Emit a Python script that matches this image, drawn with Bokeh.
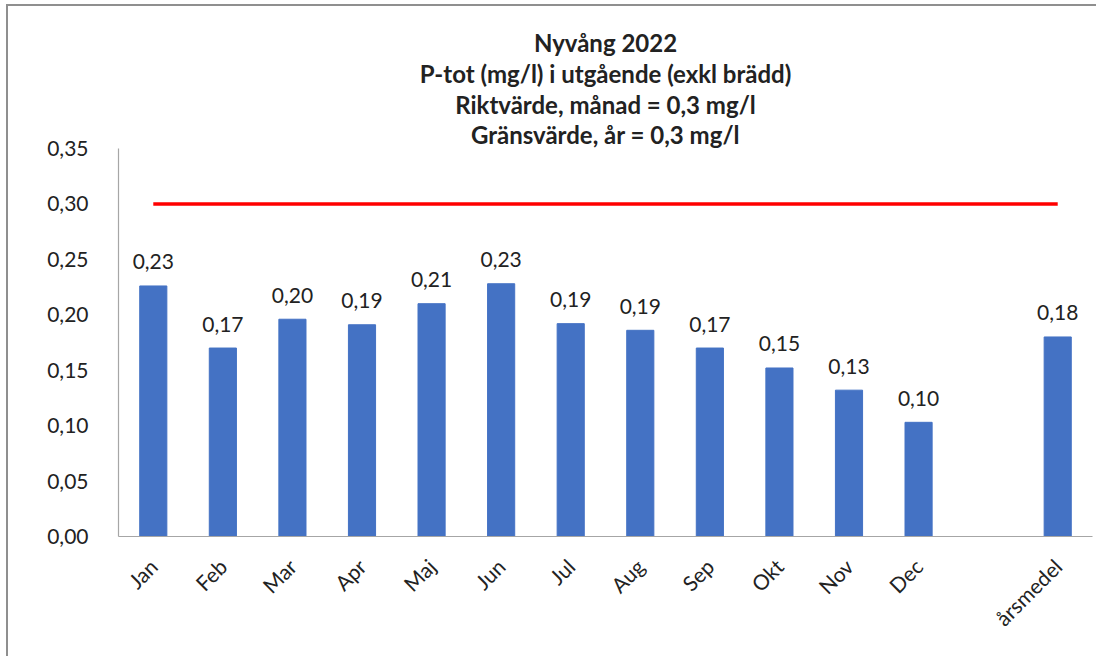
from bokeh.plotting import figure
from bokeh.models import FactorRange, FixedTicker, CustomJSTickFormatter, Title, ColumnDataSource
from bokeh.core.properties import value
from bokeh.embed import file_html
from bokeh.resources import INLINE
import math

# ---- data ----
categories = ["Jan", "Feb", "Mar", "Apr", "Maj", "Jun", "Jul", "Aug", "Sep", "Okt", "Nov", "Dec", " ", "årsmedel"]
bar_categories = ["Jan", "Feb", "Mar", "Apr", "Maj", "Jun", "Jul", "Aug", "Sep", "Okt", "Nov", "Dec", "årsmedel"]
ptot_values = [0.226, 0.170, 0.196, 0.191, 0.210, 0.228, 0.192, 0.186, 0.170, 0.152, 0.132, 0.103, 0.180]
limit_values = [0.3] * len(categories)
y_ticks = [0.0, 0.05, 0.10, 0.15, 0.20, 0.25, 0.30, 0.35]
title_lines = ["Nyvång 2022", "P-tot (mg/l) i utgående (exkl brädd)", "Riktvärde, månad = 0,3 mg/l", "Gränsvärde, år = 0,3 mg/l"]

FONT = "Lato"
TEXT = "#222222"

labels = [f"{v:.2f}".replace(".", ",") for v in ptot_values]
src = ColumnDataSource(dict(x=bar_categories, top=ptot_values, label=labels))

p = figure(
    x_range=FactorRange(*categories, range_padding=0),
    y_range=(0, 0.35),
    width=1096, height=656,
    output_backend="svg", toolbar_location=None,
    min_border_left=118, min_border_right=4, min_border_top=148, min_border_bottom=120,
)
# outer chart-area border (left and top edges), drawn behind a transparent border fill
p.styles = {
    "background-color": "white",
    "background-image": "linear-gradient(#8f8f8f, #8f8f8f), linear-gradient(#8f8f8f, #8f8f8f)",
    "background-size": "2px calc(100% - 4px), calc(100% - 6px) 2px",
    "background-position": "6px 4px, 6px 4px",
    "background-repeat": "no-repeat",
}
p.border_fill_color = None
p.background_fill_color = "white"

p.vbar(x="x", top="top", width=0.39, source=src, color="#4472C4")
p.line(x=categories, y=limit_values, line_color="#FF0000", line_width=3.5)
p.text(x="x", y="top", text="label", source=src, text_align="center", text_baseline="alphabetic",
       y_offset=-24, text_font=value(FONT), text_font_size="21px", text_color=TEXT)

for i, line in reversed(list(enumerate(title_lines))):
    p.add_layout(Title(text=line, align="center", offset=-40, text_font=FONT, text_font_size="24px",
                       text_font_style="bold", text_color=TEXT,
                       standoff=(-1 if i == len(title_lines) - 1 else 0)), "above")

p.outline_line_color = None
p.grid.grid_line_color = None

p.yaxis.ticker = FixedTicker(ticks=y_ticks)
p.yaxis.formatter = CustomJSTickFormatter(code="return tick.toFixed(2).replace('.', ',');")
for ax in (p.xaxis[0], p.yaxis[0]):
    ax.axis_line_color = "#a6a6a6"
    ax.axis_line_width = 1.2
    ax.major_tick_line_color = None
    ax.minor_tick_line_color = None
    ax.major_label_text_font = FONT
    ax.major_label_text_font_size = "21px"
    ax.major_label_text_color = TEXT
p.yaxis.major_label_standoff = 24
p.xaxis.major_label_standoff = 20
p.xaxis.major_label_orientation = math.pi / 4

open("out.html", "w").write(file_html(p, INLINE))
